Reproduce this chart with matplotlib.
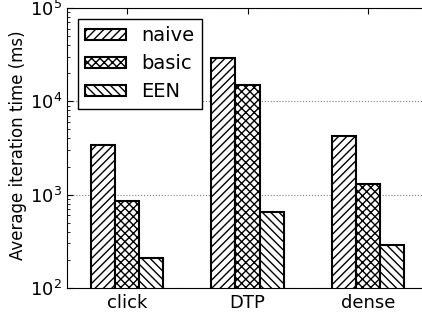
import matplotlib
matplotlib.use("Agg")
import matplotlib.pyplot as plt
import numpy as np

categories = ["click", "DTP", "dense"]
series_names = ["naive", "basic", "EEN"]
naive = [3400, 29000, 4250]
basic = [855, 15000, 1300]
een = [210, 650, 290]
hatches = ["////", "xxxx", "\\\\\\\\"]

plt.rcParams['hatch.linewidth'] = 1.0
fig = plt.figure(figsize=(4.22, 3.13), dpi=100)
ax = fig.add_axes([67/422, 25/313, 361/422, 280/313])

x = np.arange(len(categories))
w = 0.2
for i, (vals, name, h) in enumerate(zip([naive, basic, een], series_names, hatches)):
    ax.bar(x + (i - 1) * w, vals, w, color="white", edgecolor="black",
           hatch=h, linewidth=1.5, label=name, zorder=2)

ax.set_yscale("log")
ax.set_ylim(100, 100000)
ax.set_xlim(-0.5, 2.5)
ax.set_xticks(x)
ax.set_xticklabels(categories, fontsize=13)
ax.tick_params(axis="y", labelsize=13)
ax.tick_params(which="both", direction="in", top=True, right=True)
ax.tick_params(axis="x", length=4, pad=4)
ax.tick_params(axis="y", which="major", length=4)
ax.tick_params(axis="y", which="minor", length=2)
ax.yaxis.grid(True, which="major", linestyle=":", color="gray", linewidth=0.8, zorder=0)
ax.set_ylabel("Average iteration time (ms)", fontsize=12)
ax.yaxis.set_label_coords(-0.11, 0.51)
leg = ax.legend(loc="upper left", fontsize=14, fancybox=False, edgecolor="black",
                handlelength=2.06, handleheight=0.5, borderpad=0.4, labelspacing=0.45,
                handletextpad=0.8, borderaxespad=0.55, framealpha=1)
leg.get_frame().set_linewidth(1.0)
fig.savefig("out.png", dpi=100)
